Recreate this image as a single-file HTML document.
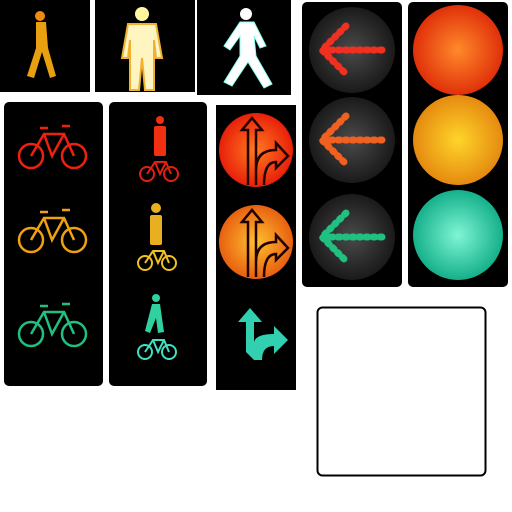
<!DOCTYPE html>
<html><head><meta charset="utf-8"><style>
html,body{margin:0;padding:0;background:#fff;width:512px;height:512px;overflow:hidden}
svg{display:block}
</style></head><body>
<svg width="512" height="512" viewBox="0 0 512 512">
<defs>
<radialGradient id="gr" cx="50%" cy="50%" r="50%"><stop offset="0" stop-color="#ff8a2a"/><stop offset="1" stop-color="#e0300a"/></radialGradient>
<radialGradient id="gy" cx="50%" cy="50%" r="50%"><stop offset="0" stop-color="#ffd52a"/><stop offset="1" stop-color="#e58a10"/></radialGradient>
<radialGradient id="gg" cx="50%" cy="50%" r="50%"><stop offset="0" stop-color="#7ff5d5"/><stop offset="1" stop-color="#15b08a"/></radialGradient>
<radialGradient id="ga" cx="50%" cy="50%" r="50%"><stop offset="0" stop-color="#4a4a4a"/><stop offset="1" stop-color="#1a1a1a"/></radialGradient>
<radialGradient id="ar" cx="50%" cy="50%" r="50%"><stop offset="0" stop-color="#ff7a20"/><stop offset="1" stop-color="#e8200a"/></radialGradient>
<radialGradient id="ay" cx="50%" cy="50%" r="50%"><stop offset="0" stop-color="#ffc030"/><stop offset="1" stop-color="#e86010"/></radialGradient>
</defs>

<!-- top row pedestrians -->
<g>
<rect x="0" y="0" width="90" height="92" fill="#000"/>
<circle cx="40" cy="16" r="5" fill="#f08a10"/>
<path d="M36 22 L46 22 L48 48 L56 76 L50 78 L42 52 L34 78 L27 76 L36 48 Z" fill="#e8a010"/>
</g>
<g>
<rect x="95" y="0" width="100" height="92" fill="#000"/>
<circle cx="142" cy="14" r="7" fill="#fff8a0"/>
<path d="M128 24 L156 24 L162 58 L156 58 L154 40 L154 90 L145 90 L142 58 L139 90 L130 90 L130 40 L128 58 L122 58 Z" fill="#fff5c0" stroke="#f0b030" stroke-width="2"/>
</g>
<g>
<rect x="197" y="0" width="94" height="95" fill="#000"/>
<circle cx="246" cy="14" r="6" fill="#fff"/>
<path d="M240 22 L254 22 L266 46 L260 48 L254 36 L256 56 L272 84 L264 88 L248 62 L232 86 L224 82 L240 56 L240 36 L230 50 L224 46 Z" fill="#fff" stroke="#8fe" stroke-width="1"/>
</g>

<!-- bicycle panel -->
<g>
<rect x="4" y="102" width="99" height="284" rx="5" fill="#000"/>
<g fill="none" stroke-width="2.5">
<g stroke="#f02010"><circle cx="31" cy="156" r="12"/><circle cx="74" cy="156" r="12"/><path d="M31 156 L44 134 L64 134 L74 156 M44 134 L52 156 L64 134 M40 128 L48 128 M62 126 L70 126"/></g>
<g stroke="#f0a010"><circle cx="31" cy="240" r="12"/><circle cx="74" cy="240" r="12"/><path d="M31 240 L44 218 L64 218 L74 240 M44 218 L52 240 L64 218 M40 212 L48 212 M62 210 L70 210"/></g>
<g stroke="#20c080"><circle cx="31" cy="334" r="12"/><circle cx="74" cy="334" r="12"/><path d="M31 334 L44 312 L64 312 L74 334 M44 312 L52 334 L64 312 M40 306 L48 306 M62 304 L70 304"/></g>
</g></g>

<!-- pedestrian + bicycle panel -->
<g>
<rect x="109" y="102" width="98" height="284" rx="5" fill="#000"/>
<g fill="#f03010"><circle cx="160" cy="120" r="4"/><rect x="154" y="126" width="12" height="30" rx="2"/></g>
<g fill="none" stroke="#e02010" stroke-width="2"><circle cx="147" cy="174" r="7"/><circle cx="171" cy="174" r="7"/><path d="M147 174 L155 162 L166 162 L171 174 M155 162 L160 174 L166 162"/></g>
<g fill="#e8b020"><circle cx="156" cy="208" r="5"/><rect x="150" y="215" width="12" height="30" rx="2"/></g>
<g fill="none" stroke="#f0c020" stroke-width="2"><circle cx="145" cy="263" r="7"/><circle cx="169" cy="263" r="7"/><path d="M145 263 L153 251 L164 251 L169 263 M153 251 L158 263 L164 251"/></g>
<g fill="#30d0a0"><circle cx="156" cy="298" r="4"/><path d="M152 304 L160 304 L164 332 L158 333 L156 318 L150 333 L145 331 Z"/></g>
<g fill="none" stroke="#40e0c0" stroke-width="2"><circle cx="145" cy="352" r="7"/><circle cx="169" cy="352" r="7"/><path d="M145 352 L153 340 L164 340 L169 352 M153 340 L158 352 L164 340"/></g>
</g>

<!-- turn-arrow panel -->
<g>
<rect x="216" y="105" width="80" height="285" fill="#000"/>
<circle cx="256" cy="150" r="37" fill="url(#ar)"/>
<circle cx="256" cy="242" r="37" fill="url(#ay)"/>
<g fill="none" stroke="#200" stroke-width="2.5">
<path d="M248 185 L248 130 L242 130 L252 118 L262 130 L256 130 L256 185 M256 170 Q256 150 276 150 L276 143 L288 156 L276 168 L276 162 Q264 162 264 185"/>
<path d="M248 277 L248 222 L242 222 L252 210 L262 222 L256 222 L256 277 M256 262 Q256 242 276 242 L276 235 L288 248 L276 260 L276 254 Q264 254 264 277"/>
</g>
<path d="M246 352 L246 322 L238 322 L250 308 L262 322 L254 322 L254 342 Q256 334 274 334 L274 326 L288 340 L274 354 L274 346 Q262 346 262 360 L254 360 Z" fill="#30d0b0"/>
</g>

<!-- left-arrow signal -->
<g>
<rect x="302" y="2" width="100" height="285" rx="5" fill="#000"/>
<circle cx="352" cy="50" r="43" fill="url(#ga)"/>
<circle cx="352" cy="140" r="43" fill="url(#ga)"/>
<circle cx="352" cy="237" r="43" fill="url(#ga)"/>
<g fill="none" stroke-width="7" stroke-linecap="round" stroke-dasharray="2 5">
<path d="M346 26 L322 50 L346 74 M324 50 L386 50" stroke="#f03020"/>
<path d="M346 116 L322 140 L346 164 M324 140 L386 140" stroke="#f06020"/>
<path d="M346 213 L322 237 L346 261 M324 237 L386 237" stroke="#20c080"/>
</g>
</g>

<!-- round lights -->
<g>
<rect x="408" y="2" width="100" height="285" rx="5" fill="#000"/>
<circle cx="458" cy="50" r="45" fill="url(#gr)"/>
<circle cx="458" cy="140" r="45" fill="url(#gy)"/>
<circle cx="458" cy="235" r="45" fill="url(#gg)"/>
</g>

<rect x="317.5" y="307.5" width="168" height="168" rx="5" fill="#fff" stroke="#000" stroke-width="2"/>
</svg>
</body></html>
